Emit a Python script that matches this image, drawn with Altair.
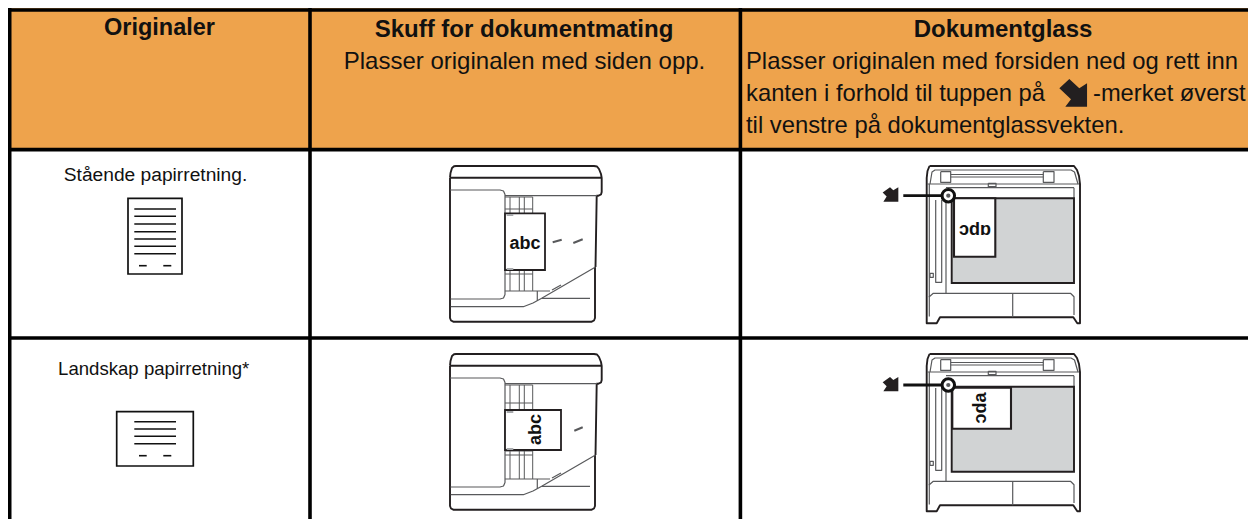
import altair as alt
import pandas as pd

FONT = "Liberation Sans"
INK = "#231F20"
GREY = "#58595B"
ORANGE = "#EEA34C"
GLASS = "#D1D3D4"

# ---- table
cell_fills = [(8, 1248, 8, 150, ORANGE)]
table_lines = [
    [(8, 10), (1248, 10)],
    [(8, 149.6), (1248, 149.6)],
    [(8, 338), (1248, 338)],
    [(9.7, 8), (9.7, 519)],
    [(310, 8), (310, 519)],
    [(740.4, 8), (740.4, 519)],
]

# ---- text: x, y, label, size, angle
header_bold = [
    (159.5, 35, "Originaler", 23.5),
    (524, 37, "Skuff for dokumentmating", 24),
    (1003, 37, "Dokumentglass", 24),
]
center_text = [
    (524.5, 68.5, "Plasser originalen med siden opp.", 24),
    (155.5, 180.5, "Stående papirretning.", 19.2),
    (153.7, 375, "Landskap papirretning*", 18.6),
]
left_text = [
    (746, 69, "Plasser originalen med forsiden ned og rett inn", 23.8),
    (746, 101, "kanten i forhold til tuppen på", 23.8),
    (1093, 101, "-merket øverst", 23.7),
    (746, 132.7, "til venstre på dokumentglassvekten.", 23.8),
]
abc_text = [
    (525, 248.5, "abc", 18, 0),
    (540.5, 429.5, "abc", 18, 270),
    (975, 235, "ɔdɒ", 18, 0),
    (975.5, 408, "ɐpc", 18, 90),
]

# ---- paper icons
paper_boxes = [(128, 182, 198.3, 274), (116.7, 193.3, 411.7, 466)]
paper_lines = [
    [(134.3, 209), (176, 209)], [(134.3, 216.3), (176, 216.3)], [(134.3, 224), (176, 224)],
    [(134.3, 231.7), (176, 231.7)], [(134.3, 239), (176, 239)], [(134.3, 246.3), (176, 246.3)],
    [(134.3, 253.7), (176, 253.7)], [(139, 265.7), (146.7, 265.7)], [(163.3, 265.7), (171.3, 265.7)],
    [(134.3, 421.7), (176, 421.7)], [(134.3, 429), (176, 429)], [(134.3, 436.3), (176, 436.3)],
    [(134.3, 443.7), (176, 443.7)], [(139, 455.7), (146.7, 455.7)], [(163.3, 455.7), (171.3, 455.7)],
]

# ---- document feeder machine (first row; the second sits one row lower)
ROW_SHIFT = 188
adf_outline = [
    [(450, 177.7), (450.5, 173), (452, 168), (454, 166.3), (456, 166), (594, 166), (597, 166.5), (599, 169),
     (601, 174), (601.7, 178), (601.7, 192), (601, 194.5), (598.5, 195.7), (596.7, 195.7), (595.5, 267)],
    [(450, 177.7), (450, 318), (451, 320.5), (453.3, 321.7), (591.7, 321.7), (594, 320.5), (595, 318), (595, 267)],
    [(450, 177.7), (601, 177.7)],
]
adf_inner = [
    [(595.5, 267), (541.7, 298.3), (533, 303), (523.3, 306.7), (450.7, 306.7)],
    [(450, 190), (500, 190), (503.5, 191), (505, 194.5), (505, 294.5), (503.5, 298), (500, 299), (450.5, 299)],
    [(505, 195.7), (597, 195.7)],
    [(537.3, 291), (537.3, 300.7)],
    [(505, 291), (550, 291)],
    [(541.7, 298.3), (590, 298.3)],
    [(552, 290), (561, 285)],
]
adf_guides_row1 = [
    [(505, 197), (532.7, 197), (532.7, 213)], [(510, 197), (510, 213)], [(519.3, 197), (519.3, 213)],
    [(524.3, 197), (524.3, 213)], [(505, 209), (532.7, 209)],
    [(505, 270), (532.7, 270), (532.7, 291)], [(510, 270), (510, 291)], [(519.3, 270), (519.3, 291)],
    [(524.3, 270), (524.3, 291)], [(505, 274), (532.7, 274)],
]
adf_guides_row2 = [
    [(505, 385), (532.7, 385), (532.7, 410)], [(510, 385), (510, 410)], [(519.3, 385), (519.3, 410)],
    [(524.3, 385), (524.3, 410)], [(505, 403), (532.7, 403)],
    [(505, 451), (532.7, 451), (532.7, 479)], [(510, 451), (510, 479)], [(519.3, 451), (519.3, 479)],
    [(524.3, 451), (524.3, 479)], [(505, 455), (532.7, 455)],
]
adf_sheets = [(505, 545, 213.3, 270), (505, 561, 410, 450)]
adf_tabs = [(506.7, 513.3, 214, 216), (506.7, 513.3, 268, 270), (506.7, 513.3, 411, 413), (506.7, 513.3, 448, 450)]
adf_dashes = [
    [(552.7, 242.3), (561.7, 239.7)], [(573.3, 243), (582.7, 239.3)],
    [(574.3, 430.7), (582.7, 427.3)],
]

# ---- document glass machine
glass_outline = [
    [(929.5, 166), (1074, 166), (1077, 170), (1079, 176), (1080, 184), (1080, 323.3), (1077.3, 323.3),
     (1073.3, 317.3), (940, 317.3), (936.7, 323.3), (926.7, 323.3), (926.7, 178), (927.5, 171), (929.5, 166)],
]
glass_inner = [
    [(927, 184), (1079, 184)],
    [(946, 187.7), (1074, 187.7)],
    [(930, 184), (932, 172), (935, 170), (1071, 170), (1074.5, 172), (1078, 184)],
    [(929.3, 184), (929.3, 296.7), (933.3, 293.3), (1070.5, 293.3), (1074, 296.7), (1074, 315)],
    [(929.3, 296), (929.3, 316.5)],
    [(1074, 187.7), (1074, 198)],
    [(946, 198), (946, 293.3)],
    [(1012.7, 293.3), (1012.7, 317.3)],
    [(935.7, 200), (935.7, 282.3), (941.7, 282.3), (941.7, 200)],
    [(930, 273.3), (933.3, 273.3), (933.3, 277.3), (930, 277.3), (930, 273.3)],
    [(940.7, 171.7), (950.7, 171.7), (950.7, 182.3), (940.7, 182.3), (940.7, 171.7)],
    [(1043.3, 171.7), (1054, 171.7), (1054, 182.3), (1043.3, 182.3), (1043.3, 171.7)],
    [(950.7, 174.5), (1043.3, 174.5)],
    [(950.7, 177), (1043.3, 177)],
    [(988.3, 183.3), (996, 183.3), (996, 186.7), (988.3, 186.7), (988.3, 183.3)],
]
glass_beds = [(951.7, 1074, 198.3, 283), (951.7, 1074, 386.7, 471.7)]
glass_sheets = [(954, 995.3, 198.3, 256.7), (952.3, 1011, 387.7, 428.7)]
pointer_lines = [[(903.3, 195.7), (942, 195.7)], [(903.3, 385), (942, 385)]]
pointer_rings = [(948.3, 195.7), (948.3, 385)]
pointer_dots = [(948.3, 195.7), (948.3, 385)]

ARROW_BIG = "M-1,-0.32 L-0.28,-1 L0.44,-0.32 L1,-0.69 L1,1 L-0.57,1 L-0.16,0.47 Z"
ARROW_SMALL = "M-1,-0.24 L-0.06,-0.91 L0.36,-0.53 L1,-0.91 L1,0.91 L-0.91,0.91 L-0.49,0.27 Z"
big_arrows = [(1073.2, 92.8, 767)]
small_arrows = [(890.5, 194.5, 246), (890.5, 384.2, 246)]

# ---- helpers
X = alt.Scale(domain=[8, 1248], nice=False, zero=False)
Y = alt.Scale(domain=[519, 8], nice=False, zero=False)


def shifted(paths, dy):
    return [[(x, y + dy) for x, y in p] for p in paths]


def path_frame(paths):
    return pd.DataFrame(
        [{"p": i, "o": j, "x": x, "y": y} for i, path in enumerate(paths) for j, (x, y) in enumerate(path)]
    )


def lines(paths, color, width):
    return (
        alt.Chart(path_frame(paths))
        .mark_line(color=color, strokeWidth=width, strokeJoin="round", strokeCap="butt", clip=False)
        .encode(
            x=alt.X("x:Q", scale=X, axis=None),
            y=alt.Y("y:Q", scale=Y, axis=None),
            detail="p:N",
            order="o:Q",
        )
    )


def boxes(items, fill, stroke=None, width=0):
    df = pd.DataFrame(items, columns=["x", "x2", "y", "y2"])
    kw = dict(fill=fill)
    if stroke:
        kw.update(stroke=stroke, strokeWidth=width)
    return (
        alt.Chart(df)
        .mark_rect(**kw)
        .encode(
            x=alt.X("x:Q", scale=X, axis=None),
            x2="x2:Q",
            y=alt.Y("y:Q", scale=Y, axis=None),
            y2="y2:Q",
        )
    )


def texts(items, align, bold=False, angled=False):
    cols = ["x", "y", "label", "size"] + (["angle"] if angled else [])
    df = pd.DataFrame(items, columns=cols)
    enc = dict(
        x=alt.X("x:Q", scale=X, axis=None),
        y=alt.Y("y:Q", scale=Y, axis=None),
        text="label:N",
        size=alt.Size("size:Q", scale=None, legend=None),
    )
    if angled:
        enc["angle"] = alt.Angle("angle:Q", scale=None)
    return (
        alt.Chart(df)
        .mark_text(font=FONT, fontWeight="bold" if bold else "normal", align=align, baseline="alphabetic", color="#111111")
        .encode(**enc)
    )


def symbols(df, **kw):
    return alt.Chart(df).mark_point(**kw).encode(
        x=alt.X("x:Q", scale=X, axis=None),
        y=alt.Y("y:Q", scale=Y, axis=None),
        size=alt.Size("s:Q", scale=None, legend=None),
    )


layers = [
    alt.Chart(pd.DataFrame(cell_fills, columns=["x", "x2", "y", "y2", "c"]))
    .mark_rect(fill=ORANGE)
    .encode(x=alt.X("x:Q", scale=X, axis=None), x2="x2:Q", y=alt.Y("y:Q", scale=Y, axis=None), y2="y2:Q"),
    lines(table_lines, "#000000", 3.6),
    boxes(paper_boxes, "#FFFFFF", "#111111", 1.7),
    lines(paper_lines, "#111111", 1.6),
    # feeder
    lines(adf_outline + shifted(adf_outline, ROW_SHIFT), INK, 1.9),
    lines(adf_inner + shifted(adf_inner, ROW_SHIFT), GREY, 1.2),
    lines(adf_guides_row1 + adf_guides_row2, GREY, 1.0),
    boxes(adf_sheets, "#FFFFFF", INK, 1.8),
    boxes(adf_tabs, "#A7A9AC"),
    lines(adf_dashes, GREY, 2.0),
    # glass
    lines(glass_outline + shifted(glass_outline, ROW_SHIFT), INK, 1.9),
    lines(glass_inner + shifted(glass_inner, ROW_SHIFT), GREY, 1.2),
    boxes(glass_beds, GLASS, INK, 1.9),
    boxes(glass_sheets, "#FFFFFF", INK, 2.1),
    lines(pointer_lines, "#111111", 2.8),
    symbols(pd.DataFrame([(x, y, 156) for x, y in pointer_rings], columns=["x", "y", "s"]),
            shape="circle", filled=True, fill="#FFFFFF", stroke="#111111", strokeWidth=3, opacity=1),
    symbols(pd.DataFrame([(x, y, 18) for x, y in pointer_dots], columns=["x", "y", "s"]),
            shape="circle", filled=True, fill="#58595B", opacity=1),
    symbols(pd.DataFrame(big_arrows, columns=["x", "y", "s"]),
            shape=ARROW_BIG, filled=True, fill=INK, opacity=1),
    symbols(pd.DataFrame(small_arrows, columns=["x", "y", "s"]),
            shape=ARROW_SMALL, filled=True, fill=INK, opacity=1),
    # text
    texts(header_bold, "center", bold=True),
    texts(center_text, "center"),
    texts(left_text, "left"),
    texts(abc_text, "center", bold=True, angled=True),
]

chart = (
    alt.layer(*layers)
    .properties(
        width=1240,
        height=511,
        padding={"left": 0, "right": 0, "top": 0, "bottom": 0},
        autosize=alt.AutoSizeParams(type="none", contains="padding"),
        background="#FFFFFF",
    )
    .configure_view(stroke=None)
)
chart.save("out.html", embed_options={"renderer": "svg", "actions": False})
